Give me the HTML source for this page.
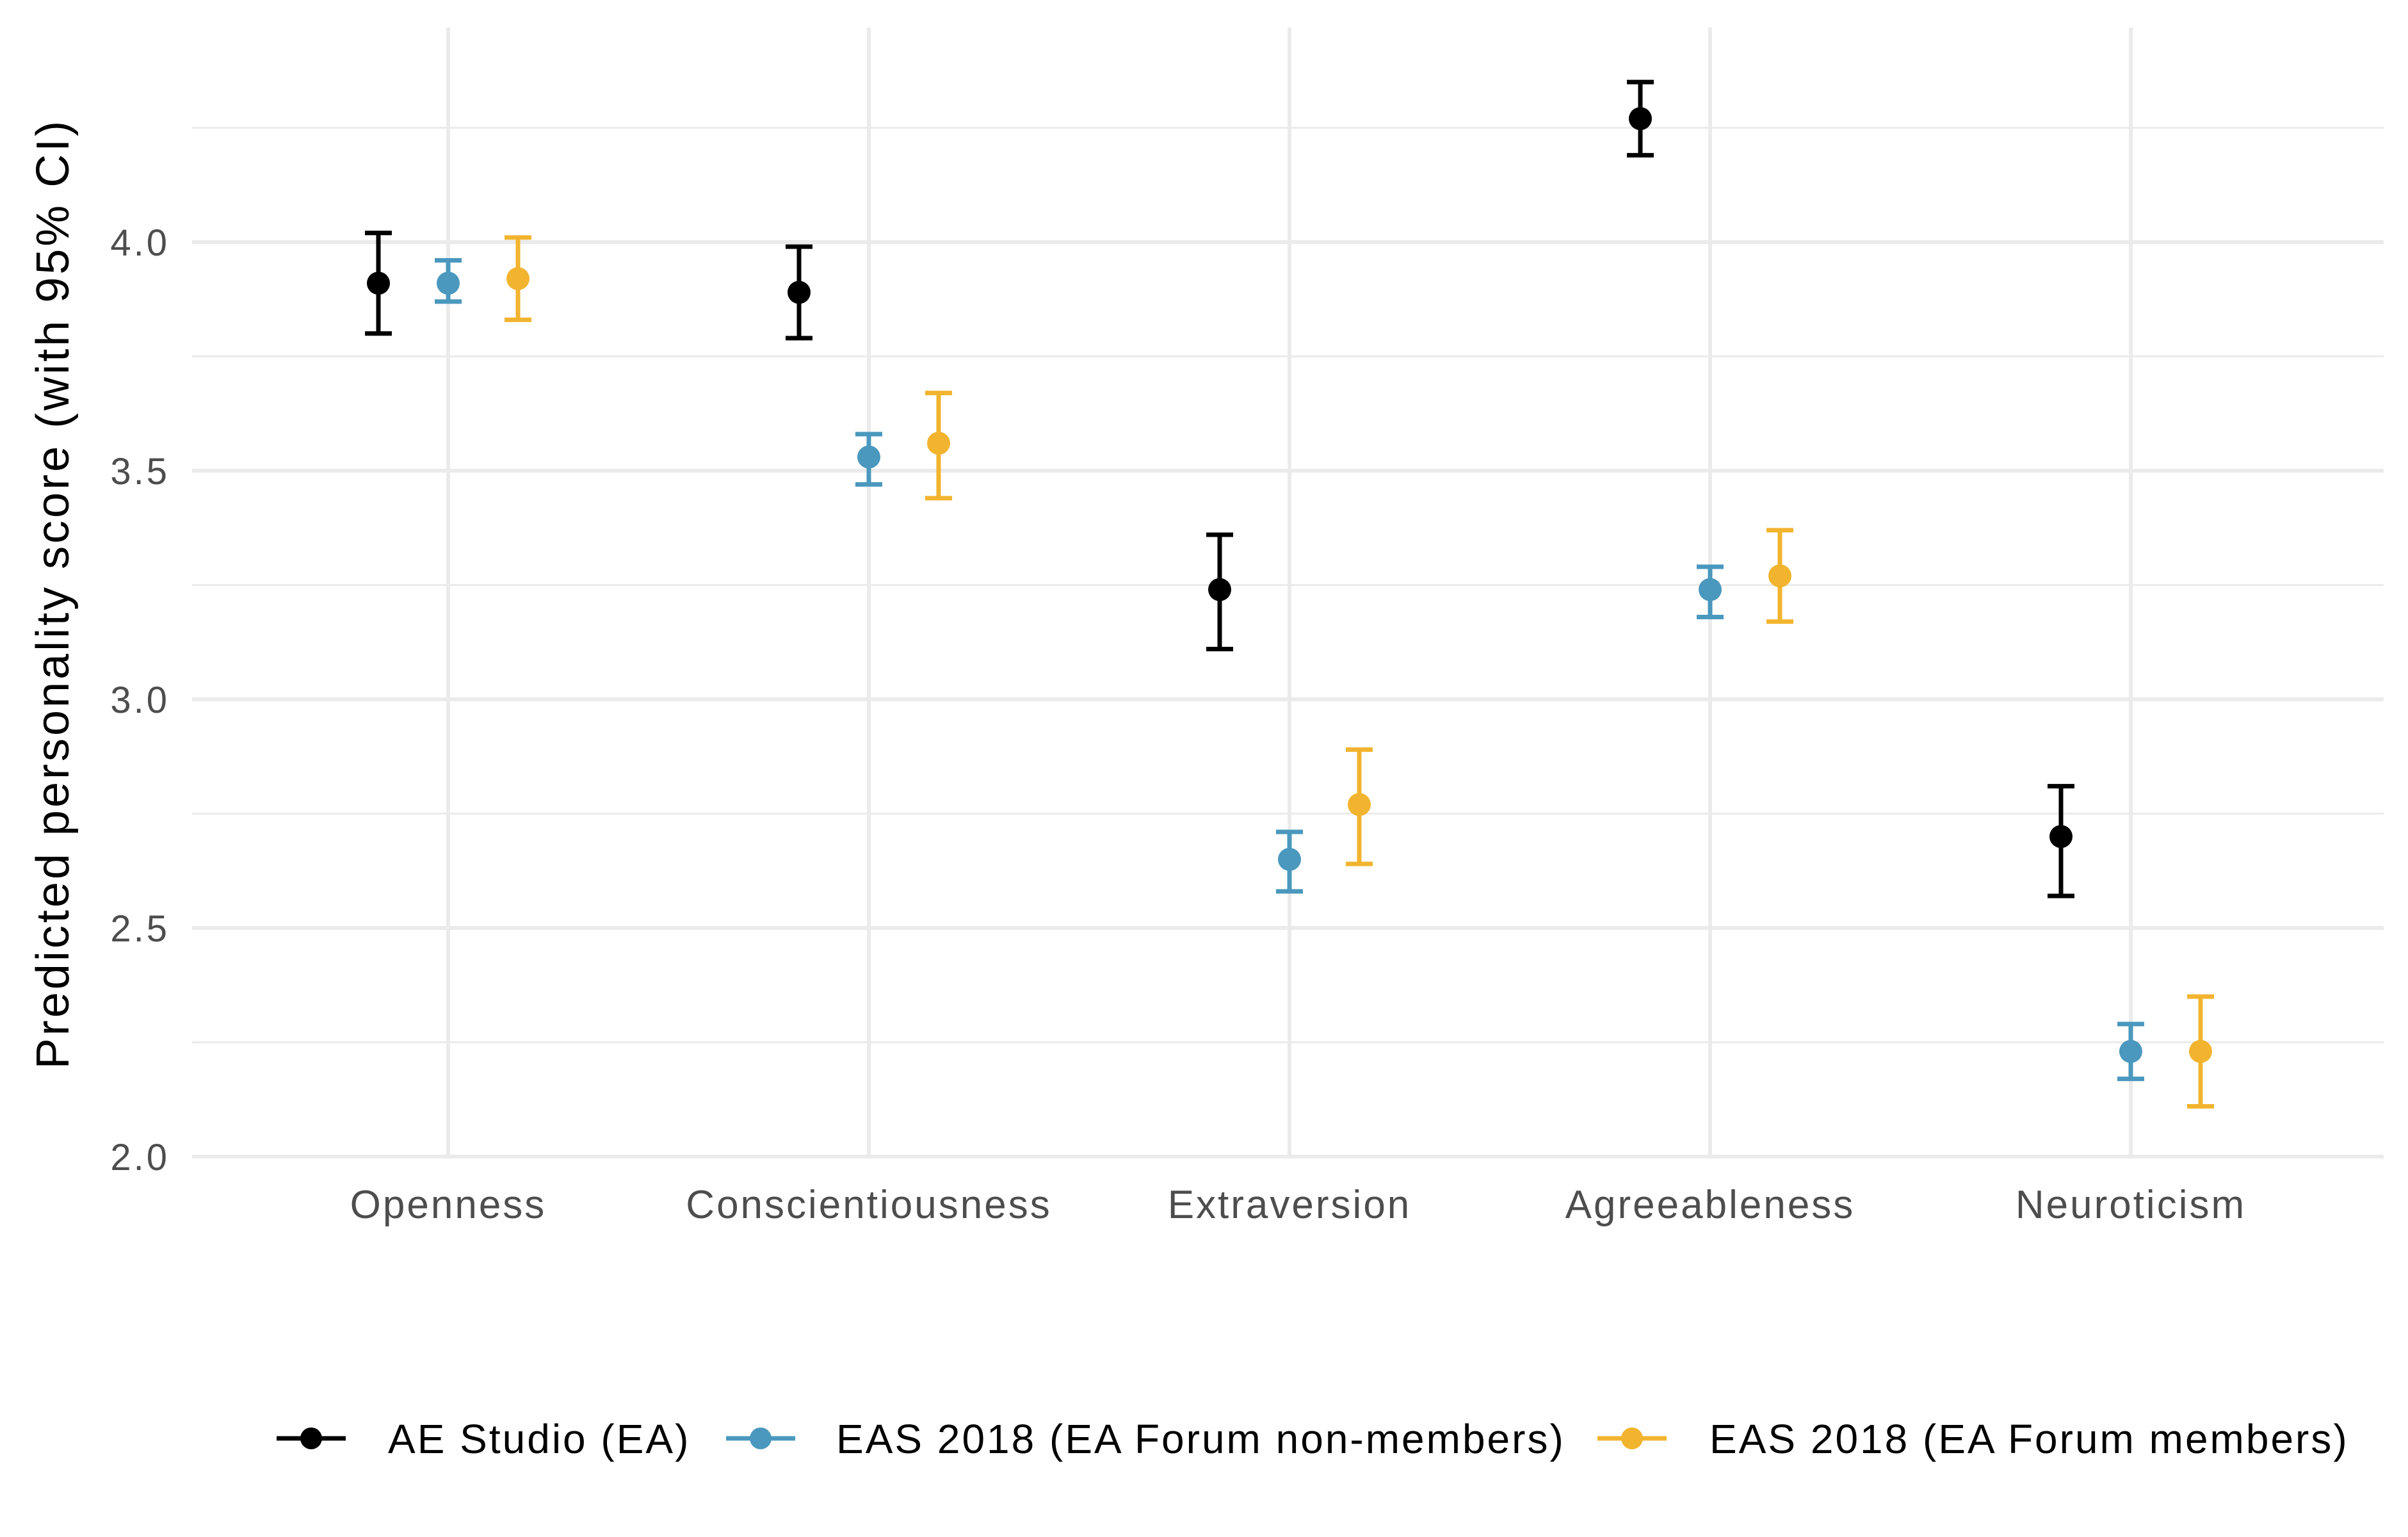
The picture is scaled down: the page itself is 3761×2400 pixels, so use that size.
<!DOCTYPE html>
<html><head><meta charset="utf-8"><style>
html,body{margin:0;padding:0;background:#fff;}
svg{display:block;font-family:"Liberation Sans",sans-serif;}
</style></head><body>
<svg id="chart" width="3761" height="2400" viewBox="0 0 3761 2400" xmlns="http://www.w3.org/2000/svg">
<g id="grid"></g>
<g id="marks"></g>
<g id="axes"></g>
<text transform="translate(107,927) rotate(-90)" text-anchor="middle" font-size="72" letter-spacing="4" fill="#000">Predicted personality score (with 95% CI)</text>
<g id="legend"></g>
</svg>
<script>
const categories = ["Openness","Conscientiousness","Extraversion","Agreeableness","Neuroticism"];
const seriesNames = ["AE Studio (EA)","EAS 2018 (EA Forum non-members)","EAS 2018 (EA Forum members)"];
const seriesColors = ["#000000","#4a98be","#f2b42f"];
const aeMean = [3.91,3.89,3.24,4.27,2.70];
const aeLow  = [3.80,3.79,3.11,4.19,2.57];
const aeHigh = [4.02,3.99,3.36,4.35,2.81];
const nmMean = [3.91,3.53,2.65,3.24,2.23];
const nmLow  = [3.87,3.47,2.58,3.18,2.17];
const nmHigh = [3.96,3.58,2.71,3.29,2.29];
const mMean  = [3.92,3.56,2.77,3.27,2.23];
const mLow   = [3.83,3.44,2.64,3.17,2.11];
const mHigh  = [4.01,3.67,2.89,3.37,2.35];
const yTicks = [2.0,2.5,3.0,3.5,4.0];
const yMinor = [2.25,2.75,3.25,3.75,4.25];

const NS="http://www.w3.org/2000/svg";
const plotL=300, plotR=3723, plotT=43;
const y = v => 1806 - (v-2.0)*714;
const x = i => 700 + i*657;
const dodge = [-109,0,109];
function mk(tag, attrs, parent){const e=document.createElementNS(NS,tag);for(const k in attrs)e.setAttribute(k,attrs[k]);parent.appendChild(e);return e;}
const grid=document.getElementById('grid'), marks=document.getElementById('marks'), axes=document.getElementById('axes'), legend=document.getElementById('legend');

yMinor.forEach(v=>{const l=mk('line',{x1:plotL,x2:plotR,y1:y(v),y2:y(v),stroke:'#ebebeb','stroke-width':3},grid);

});
yTicks.forEach(v=>{const l=mk('line',{x1:plotL,x2:plotR,y1:y(v),y2:y(v),stroke:'#ebebeb','stroke-width':6},grid);


const t=mk('text',{x:265,y:y(v)+21,'text-anchor':'end','font-size':58,'letter-spacing':4,fill:'#4d4d4d'},axes);t.textContent=v.toFixed(1);

});
categories.forEach((c,i)=>{const l=mk('line',{x1:x(i),x2:x(i),y1:plotT,y2:1806,stroke:'#ebebeb','stroke-width':6},grid);


const t=mk('text',{x:x(i),y:1902,'text-anchor':'middle','font-size':62,'letter-spacing':3,fill:'#4d4d4d'},axes);t.textContent=c;

});

const allMean=[aeMean,nmMean,mMean], allLow=[aeLow,nmLow,mLow], allHigh=[aeHigh,nmHigh,mHigh];
allMean.forEach((means,s)=>{means.forEach((m,i)=>{
 const cx=x(i)+dodge[s], col=seriesColors[s];
 const g=mk('g',{},marks);
 
 
 mk('line',{x1:cx,x2:cx,y1:y(allLow[s][i]),y2:y(allHigh[s][i]),stroke:col,'stroke-width':7},g);
 mk('line',{x1:cx-21,x2:cx+21,y1:y(allLow[s][i]),y2:y(allLow[s][i]),stroke:col,'stroke-width':7},g);
 mk('line',{x1:cx-21,x2:cx+21,y1:y(allHigh[s][i]),y2:y(allHigh[s][i]),stroke:col,'stroke-width':7},g);
 const p=mk('circle',{cx:cx,cy:y(m),r:18,fill:col},marks);
 
 
});});

const legKeyX=[486,1188,2549], legTextX=[606,1306,2670], legY=2246;
seriesNames.forEach((n,s)=>{
 const g=mk('g',{},legend);
 
 
 mk('line',{x1:legKeyX[s]-54,x2:legKeyX[s]+54,y1:legY,y2:legY,stroke:seriesColors[s],'stroke-width':7},g);
 mk('circle',{cx:legKeyX[s],cy:legY,r:17,fill:seriesColors[s]},g);
 const t=mk('text',{x:legTextX[s],y:legY+23,'font-size':64,'letter-spacing':3,fill:'#000'},g);t.textContent=n;
});
</script>
</body></html>
